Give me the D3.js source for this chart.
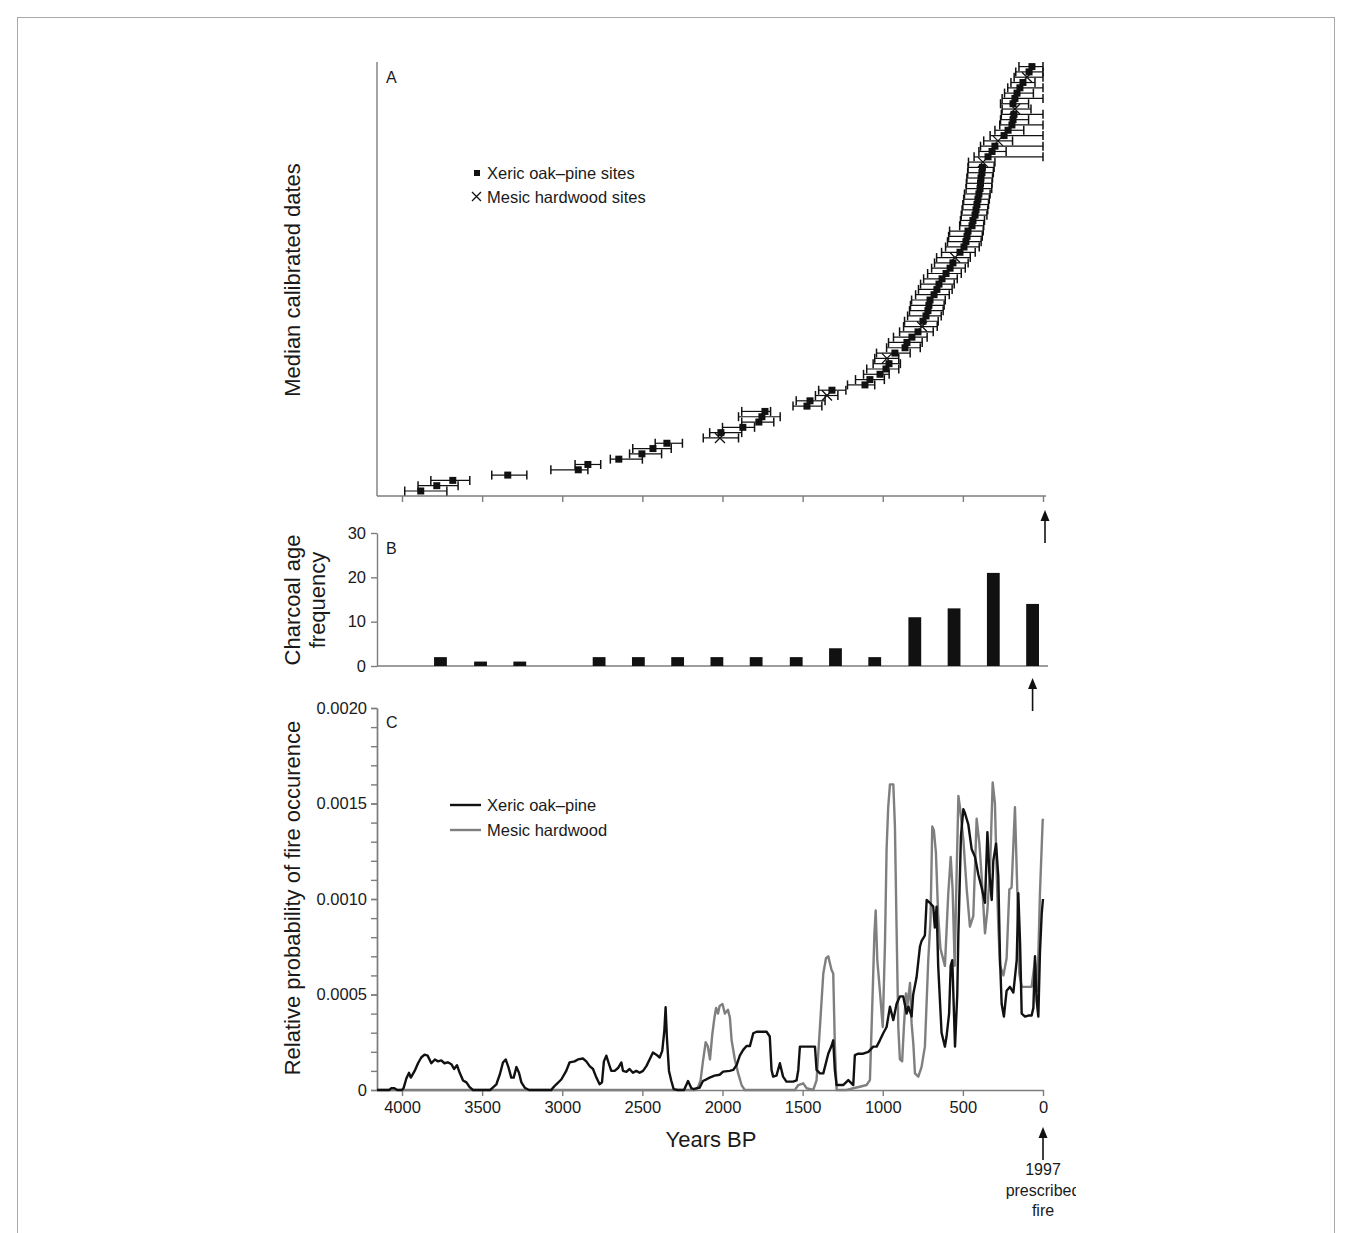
<!DOCTYPE html>
<html>
<head>
<meta charset="utf-8">
<script src="https://cdn.jsdelivr.net/npm/d3@7"></script>
<style>
  body { margin: 0; background: #fff; }
  text { font-family: "Liberation Sans", Arial, Helvetica, sans-serif; fill: #1a1a1a; }
</style>
</head>
<body>
<svg id="fig" width="1351" height="1233"></svg>
<script>
// ---------- shared axis ----------
const yearTicks = [4000, 3500, 3000, 2500, 2000, 1500, 1000, 500, 0];

// ---------- panel A: ranked median calibrated dates (years BP) ----------
const siteMedian = [
  3883, 3783, 3683, 3340, 2900, 2840, 2647, 2503, 2434, 2347,
  2016, 2010, 1873, 1773, 1754, 1735, 1473, 1454, 1348, 1317,
  1111, 1080, 1017, 980, 961, 974, 924, 861, 849, 818,
  780, 755, 749, 730, 718, 712, 705, 680, 662, 649,
  630, 605, 580, 562, 549, 518, 493, 481, 474, 468,
  443, 437, 424, 418, 412, 406, 400, 393, 390, 387,
  381, 378, 375, 343, 318, 300, 281, 243, 218, 194,
  187, 181, 175, 187, 175, 162, 144, 125, 100, 87, 69
];
const siteOldest = [
  3983, 3900, 3820, 3440, 3071, 2920, 2700, 2580, 2560, 2420,
  2120, 2080, 2000, 1880, 1900, 1880, 1560, 1540, 1420, 1400,
  1220, 1170, 1120, 1100, 1060, 1050, 1039, 976, 964, 933,
  895, 870, 864, 845, 833, 827, 820, 795, 777, 764,
  745, 720, 695, 677, 664, 633, 608, 596, 589, 583,
  520, 515, 510, 505, 500, 495, 490, 480, 478, 475,
  470, 468, 465, 430, 400, 390, 370, 330, 300, 270,
  265, 260, 255, 265, 255, 240, 220, 200, 180, 170, 150
];
const siteYoungest = [
  3720, 3650, 3577, 3221, 2840, 2760, 2500, 2380, 2320, 2250,
  1900, 1880, 1800, 1680, 1640, 1700, 1380, 1360, 1280, 1230,
  1050, 990, 960, 900, 890, 900, 829, 766, 754, 723,
  685, 660, 654, 635, 623, 617, 610, 585, 567, 554,
  535, 510, 485, 467, 454, 423, 398, 386, 379, 373,
  370, 365, 350, 345, 340, 335, 330, 320, 318, 315,
  310, 305, 300, 0, 230, 0, 190, 0, 120, 0,
  90, 0, 75, 90, 0, 60, 0, 50, 0, 0, 0
];
// "m" = mesic hardwood site, "x" = xeric oak–pine site
const siteType = [
  "x","x","x","x","x","x","x","x","x","x",
  "m","x","x","x","x","x","x","x","m","x",
  "x","x","x","x","x","m","x","x","x","x",
  "x","m","x","x","x","x","x","x","x","x",
  "x","x","x","x","m","x","x","x","x","x",
  "x","x","x","x","x","x","x","x","x","x",
  "x","x","m","x","x","x","m","x","x","x",
  "x","x","m","x","x","x","x","x","m","x","x"
];

// ---------- panel B: charcoal age frequency ----------
const binCentres = [3760, 3510, 3265, 3020, 2770, 2525, 2280, 2035, 1790, 1540, 1295, 1050, 800, 555, 310, 65];
const binCounts  = [2, 1, 1, 0, 2, 2, 2, 2, 2, 2, 4, 2, 11, 13, 21, 14];
const freqTicks = [0, 10, 20, 30];

// ---------- panel C: relative probability of fire occurrence ----------
const xericYears = [
  4156, 4080, 4066, 4050, 4030, 4000, 3990, 3973, 3956, 3945, 3921, 3900, 3880, 3859, 3840, 3817, 3795, 3775, 3755, 3735,
  3714, 3692, 3675, 3657, 3640, 3619, 3598, 3578, 3557, 3450, 3430, 3411, 3390, 3370, 3353, 3336, 3318, 3303, 3286, 3270,
  3255, 3234, 3207, 3068, 3060, 3037, 3006, 2975, 2954, 2923, 2902, 2871, 2850, 2829, 2808, 2787, 2767, 2752, 2740, 2725,
  2710, 2694, 2673, 2652, 2631, 2621, 2600, 2580, 2559, 2538, 2517, 2496, 2475, 2455, 2434, 2413, 2392, 2376, 2363, 2355,
  2347, 2334, 2320, 2305, 2280, 2240, 2215, 2195, 2180, 2160, 2143, 2122, 2100, 2080, 2050, 2018, 1996, 1955, 1933, 1912,
  1892, 1871, 1850, 1829, 1808, 1787, 1766, 1725, 1705, 1694, 1684, 1663, 1642, 1622, 1601, 1580, 1559, 1538, 1527, 1517,
  1475, 1423, 1413, 1392, 1371, 1340, 1320, 1309, 1299, 1288, 1278, 1247, 1215, 1184, 1174, 1153, 1122, 1090, 1059, 1038,
  1018, 997, 976, 955, 934, 914, 893, 872, 851, 840, 820, 810, 789, 768, 758, 737, 726, 706, 685, 675,
  664, 654, 633, 612, 602, 586, 576, 566, 549, 535, 528, 512, 497, 487, 466, 445, 424, 404, 383, 362,
  347, 335, 320, 310, 293, 279, 268, 258, 244, 227, 206, 185, 164, 154, 143, 133, 112, 92, 71, 60,
  50, 40, 29, 19, 8, 0
];
const xericProb = [
  0, 0, 0.00001, 0.00001, 0, 0, 0.00001, 0.00006, 0.00009, 0.000065, 0.0001, 0.00014, 0.00017, 0.000185, 0.00018, 0.00014, 0.00016, 0.00015, 0.000155, 0.00014,
  0.000145, 0.000135, 0.00011, 0.00013, 0.00009, 0.00005, 0.00004, 0.000015, 0, 0, 0.000015, 0.00003, 0.00008, 0.000144, 0.00016, 0.00012, 0.000065, 0.000065, 0.00012, 0.00009,
  0.00004, 0.000012, 0, 0, 0.00001, 0.00003, 0.000055, 0.0001, 0.000145, 0.00015, 0.00016, 0.000165, 0.00015, 0.000125, 0.00011, 0.000065, 0.00003, 0.00004, 0.00015, 0.00018,
  0.00014, 0.0001, 0.0001, 0.000115, 0.000144, 0.0001, 0.000095, 0.00011, 0.00009, 0.0001, 0.00009, 0.0001, 0.000125, 0.00016, 0.000196, 0.000185, 0.00017, 0.000205, 0.00031, 0.000433,
  0.000275, 0.0001, 0.00005, 0.000005, 0, 0, 0.000047, 0.00001, 0.000005, 0.00001, 0.000012, 0.000047, 0.000056, 0.000065, 0.000075, 0.00008, 0.000096, 0.0001, 0.000105, 0.00013,
  0.00018, 0.00021, 0.00023, 0.00023, 0.000297, 0.000305, 0.000305, 0.000305, 0.00028, 0.000105, 0.00007, 0.000075, 0.00014, 0.00007, 0.000044, 0.000044, 0.000044, 0.00005, 0.000105, 0.000227,
  0.000227, 0.000227, 0.000105, 0.000087, 0.000087, 0.00019, 0.00023, 0.00026, 0.000105, 0.000026, 0.000026, 0.000026, 0.000052, 0.000026, 0.000183, 0.00019, 0.00019, 0.0002, 0.000227, 0.000227,
  0.00026, 0.000297, 0.00033, 0.000436, 0.000366, 0.00045, 0.00049, 0.00049, 0.0004, 0.000436, 0.000385, 0.0005, 0.00059, 0.00075, 0.00078, 0.00081, 0.000995, 0.00098, 0.00096, 0.00085,
  0.00096, 0.00065, 0.0003, 0.000227, 0.00028, 0.0004, 0.00065, 0.00068, 0.000227, 0.0005, 0.00082, 0.00133, 0.00147, 0.00145, 0.00139, 0.00126, 0.00122, 0.00113, 0.00106, 0.00098,
  0.00135, 0.00114, 0.000995, 0.0012, 0.00129, 0.00112, 0.00068, 0.00045, 0.000384, 0.00052, 0.00054, 0.00051, 0.00068, 0.00103, 0.00077, 0.0004, 0.000384, 0.00039, 0.00039, 0.00043,
  0.0007, 0.00047, 0.000384, 0.00072, 0.000925, 0.001
];

const mesicYears = [
  4156, 2163, 2150, 2137, 2122, 2105, 2092, 2078, 2064, 2050, 2040, 2028, 2018, 2000, 1985, 1966, 1954, 1943, 1923, 1902,
  1881, 1861, 1548, 1527, 1496, 1475, 1434, 1413, 1392, 1371, 1354, 1340, 1320, 1309, 1299, 1288, 1226, 1184, 1143, 1101,
  1080, 1063, 1052, 1044, 1034, 1018, 1000, 986, 976, 966, 955, 934, 924, 914, 903, 893, 879, 868, 855, 847,
  830, 820, 809, 799, 778, 758, 737, 716, 702, 691, 681, 668, 654, 640, 612, 591, 576, 564, 551, 543,
  528, 518, 497, 476, 456, 435, 414, 397, 383, 362, 347, 330, 314, 300, 289, 279, 268, 247, 227, 210,
  196, 175, 160, 148, 133, 102, 71, 50, 35, 19, 2, 0
];
const mesicProb = [
  0, 0, 0.00002, 0.00005, 0.00015, 0.00025, 0.00023, 0.00016, 0.00029, 0.00038, 0.00043, 0.0004, 0.00044, 0.00045, 0.0004, 0.00042, 0.00038, 0.00026, 0.00016, 0.000087,
  0.000026, 0, 0, 0.000026, 0.000035, 0.000009, 0, 0.00005, 0.00033, 0.00061, 0.00069, 0.0007, 0.00063, 0.00061, 0.00024, 0, 0, 0.000009, 0.000017, 0.000026,
  0.000052, 0.000506, 0.00082, 0.00094, 0.00068, 0.00052, 0.00033, 0.00077, 0.00126, 0.00148, 0.0016, 0.0016, 0.00138, 0.00086, 0.00033, 0.00016, 0.00015, 0.00033, 0.000506, 0.000436,
  0.00056, 0.00035, 0.00024, 0.000087, 0.00007, 0.00012, 0.000227, 0.00068, 0.00089, 0.00138, 0.00136, 0.00124, 0.00091, 0.00074, 0.00065, 0.00103, 0.00122, 0.00105, 0.00065, 0.00098,
  0.00154, 0.00148, 0.00131, 0.00105, 0.000855, 0.00091, 0.00142, 0.00129, 0.00112, 0.00082, 0.00094, 0.00117, 0.00161, 0.0015, 0.00114, 0.00086, 0.00065, 0.0006, 0.00069, 0.00105,
  0.00106, 0.00148, 0.00103, 0.00061, 0.00054, 0.00054, 0.00054, 0.00068, 0.00052, 0.00103, 0.00141, 0.00142
];
const probMajorTicks = [0, 0.0005, 0.001, 0.0015, 0.002];
const probMinorTicks = d3.range(0, 21).map(i => i * 0.0001);

// ---------- drawing ----------
const svg = d3.select("#fig");
const axisGrey = "#7d7d7d";
const ink = "#111";

// outer frame
svg.append("rect")
  .attr("x", 17.5).attr("y", 17.5).attr("width", 1317).attr("height", 1240)
  .attr("fill", "none").attr("stroke", "#a8a8a8").attr("stroke-width", 1);

const x = d3.scaleLinear().domain([4156, 0]).range([377, 1043]);

function styleAxis(g) {
  g.selectAll(".domain").attr("stroke", axisGrey).attr("stroke-width", 1.4);
  g.selectAll(".tick line").attr("stroke", axisGrey).attr("stroke-width", 1.4);
  g.selectAll(".tick text").attr("fill", "#1a1a1a").attr("font-size", 16.5)
    .attr("font-family", "\"Liberation Sans\", Arial, sans-serif");
}

function arrowUp(px, yBottom, yTop) {
  svg.append("line").attr("x1", px).attr("x2", px).attr("y1", yBottom).attr("y2", yTop + 8)
    .attr("stroke", ink).attr("stroke-width", 1.6);
  svg.append("path")
    .attr("d", `M${px},${yTop} L${px - 4.5},${yTop + 11} L${px + 4.5},${yTop + 11} Z`)
    .attr("fill", ink);
}

// ===== Panel A =====
const yA = d3.scaleLinear().domain([0, siteMedian.length - 1]).range([491, 66.6]);

svg.append("line").attr("x1", 377).attr("x2", 377).attr("y1", 62).attr("y2", 496)
  .attr("stroke", axisGrey).attr("stroke-width", 1.4);
const axA = svg.append("g").attr("transform", "translate(0,496)")
  .call(d3.axisBottom(x).tickValues(yearTicks).tickSize(6).tickSizeOuter(0).tickFormat(""));
styleAxis(axA);
axA.select(".domain").attr("d", `M377,0H1046`);

const sites = siteMedian.map((m, i) => ({ m, old: siteOldest[i], young: siteYoungest[i], t: siteType[i], i }));
const gA = svg.append("g");
const capH = 4.5;
sites.forEach(s => {
  const yy = yA(s.i);
  const x0 = x(s.old), x1 = x(s.young);
  gA.append("line").attr("x1", x0).attr("x2", x1).attr("y1", yy).attr("y2", yy)
    .attr("stroke", ink).attr("stroke-width", 1.2);
  [x0, x1].forEach(cx => gA.append("line").attr("x1", cx).attr("x2", cx)
    .attr("y1", yy - capH).attr("y2", yy + capH).attr("stroke", ink).attr("stroke-width", 1.5));
});
sites.forEach(s => {
  const yy = yA(s.i), cx = x(s.m);
  if (s.t === "x") {
    gA.append("rect").attr("x", cx - 3.5).attr("y", yy - 3.5).attr("width", 7).attr("height", 7).attr("fill", ink);
  } else {
    gA.append("path").attr("d", `M${cx - 5},${yy - 5}L${cx + 5},${yy + 5}M${cx - 5},${yy + 5}L${cx + 5},${yy - 5}`)
      .attr("stroke", ink).attr("stroke-width", 1.3).attr("fill", "none");
  }
});

svg.append("text").attr("x", 386).attr("y", 83).attr("font-size", 16).text("A");
svg.append("text").attr("transform", "translate(292,280) rotate(-90)").attr("text-anchor", "middle")
  .attr("dy", "0.35em").attr("font-size", 22).text("Median calibrated dates");

// legend A
svg.append("rect").attr("x", 474).attr("y", 170).attr("width", 6).attr("height", 6).attr("fill", ink);
svg.append("text").attr("x", 487).attr("y", 173).attr("dy", "0.35em").attr("font-size", 16.5).text("Xeric oak–pine sites");
svg.append("path").attr("d", "M472,192L481,201M472,201L481,192").attr("stroke", ink).attr("stroke-width", 1.3);
svg.append("text").attr("x", 487).attr("y", 197).attr("dy", "0.35em").attr("font-size", 16.5).text("Mesic hardwood sites");

arrowUp(x(0) + 2, 543, 510);

// ===== Panel B =====
const yB = d3.scaleLinear().domain([0, 30]).range([666, 533]);
const axB = svg.append("g").attr("transform", "translate(377,0)")
  .call(d3.axisLeft(yB).tickValues(freqTicks).tickSize(6).tickSizeOuter(0).tickPadding(5));
styleAxis(axB);
svg.append("line").attr("x1", 377).attr("x2", 1048).attr("y1", 666).attr("y2", 666)
  .attr("stroke", axisGrey).attr("stroke-width", 1.4);
svg.append("g").selectAll("rect").data(binCentres.map((c, i) => ({ c, n: binCounts[i] })).filter(d => d.n > 0))
  .join("rect")
  .attr("x", d => x(d.c) - 6.4).attr("width", 12.8)
  .attr("y", d => yB(d.n)).attr("height", d => yB(0) - yB(d.n))
  .attr("fill", ink);
svg.append("text").attr("x", 386).attr("y", 554).attr("font-size", 16).text("B");
svg.append("text").attr("transform", "translate(292,600) rotate(-90)").attr("text-anchor", "middle")
  .attr("dy", "0.35em").attr("font-size", 22).text("Charcoal age");
svg.append("text").attr("transform", "translate(317,600) rotate(-90)").attr("text-anchor", "middle")
  .attr("dy", "0.35em").attr("font-size", 22).text("frequency");

arrowUp(x(binCentres[binCentres.length - 1]), 711, 678);

// ===== Panel C =====
const yC = d3.scaleLinear().domain([0, 0.002]).range([1090, 708]);
const axCminor = svg.append("g").attr("transform", "translate(377,0)")
  .call(d3.axisLeft(yC).tickValues(probMinorTicks).tickSize(6).tickSizeOuter(0).tickFormat(""));
styleAxis(axCminor);
const axC = svg.append("g").attr("transform", "translate(377,0)")
  .call(d3.axisLeft(yC).tickValues(probMajorTicks).tickSize(6).tickSizeOuter(0).tickPadding(4)
    .tickFormat(v => v === 0 ? "0" : d3.format(".4f")(v)));
styleAxis(axC);
const axCx = svg.append("g").attr("transform", "translate(0,1090)")
  .call(d3.axisBottom(x).tickValues(yearTicks).tickSize(6).tickSizeOuter(0).tickPadding(5).tickFormat(d3.format("d")));
styleAxis(axCx);

const line = d3.line().x(d => x(d[0])).y(d => yC(d[1]));
svg.append("path").datum(mesicYears.map((yr, i) => [yr, mesicProb[i]]))
  .attr("d", line).attr("fill", "none").attr("stroke", "#7f7f7f").attr("stroke-width", 2.4)
  .attr("stroke-linejoin", "round");
svg.append("path").datum(xericYears.map((yr, i) => [yr, xericProb[i]]))
  .attr("d", line).attr("fill", "none").attr("stroke", ink).attr("stroke-width", 2.4)
  .attr("stroke-linejoin", "round");

svg.append("text").attr("x", 386).attr("y", 728).attr("font-size", 16).text("C");
svg.append("text").attr("transform", "translate(292,898) rotate(-90)").attr("text-anchor", "middle")
  .attr("dy", "0.35em").attr("font-size", 22).text("Relative probability of fire occurence");
svg.append("text").attr("x", 711).attr("y", 1139).attr("text-anchor", "middle").attr("dy", "0.35em")
  .attr("font-size", 22).text("Years BP");

// legend C
svg.append("line").attr("x1", 450).attr("x2", 481).attr("y1", 805).attr("y2", 805).attr("stroke", ink).attr("stroke-width", 2.4);
svg.append("text").attr("x", 487).attr("y", 805).attr("dy", "0.35em").attr("font-size", 16.5).text("Xeric oak–pine");
svg.append("line").attr("x1", 450).attr("x2", 481).attr("y1", 830).attr("y2", 830).attr("stroke", "#7f7f7f").attr("stroke-width", 2.4);
svg.append("text").attr("x", 487).attr("y", 830).attr("dy", "0.35em").attr("font-size", 16.5).text("Mesic hardwood");

// prescribed fire marker
arrowUp(x(0), 1160, 1127);
svg.append("clipPath").attr("id", "noteClip").append("rect")
  .attr("x", 990).attr("y", 1150).attr("width", 86).attr("height", 80);
const note = svg.append("g").attr("clip-path", "url(#noteClip)");
["1997", "prescribed", "fire"].forEach((t, i) => {
  note.append("text").attr("x", x(0)).attr("y", 1175 + i * 20.5).attr("text-anchor", "middle")
    .attr("font-size", 16).text(t);
});
</script>
</body>
</html>
